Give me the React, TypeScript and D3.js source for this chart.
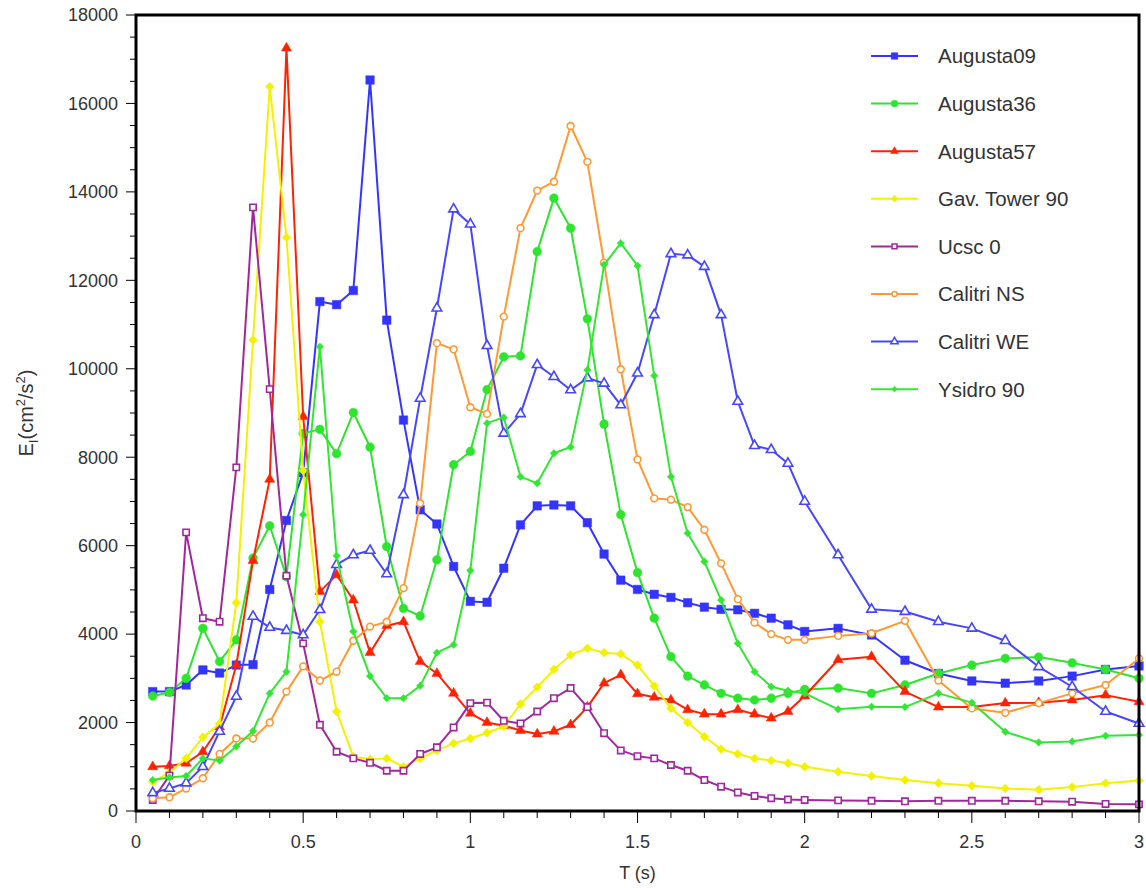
import * as d3 from 'd3';

// T (s) sample periods
const T = [
  0.05, 0.1, 0.15, 0.2, 0.25, 0.3, 0.35, 0.4, 0.45, 0.5,
  0.55, 0.6, 0.65, 0.7, 0.75, 0.8, 0.85, 0.9, 0.95, 1.0,
  1.05, 1.1, 1.15, 1.2, 1.25, 1.3, 1.35, 1.4, 1.45, 1.5,
  1.55, 1.6, 1.65, 1.7, 1.75, 1.8, 1.85, 1.9, 1.95, 2.0,
  2.1, 2.2, 2.3, 2.4, 2.5, 2.6, 2.7, 2.8, 2.9, 3.0,
];

const augusta09 = [
  2700, 2700, 2850, 3190, 3120, 3300, 3310, 5010, 6570, 7650,
  11520, 11450, 11770, 16530, 11100, 8840, 6810, 6490, 5530, 4740,
  4720, 5490, 6470, 6900, 6920, 6900, 6520, 5810, 5220, 5010,
  4900, 4830, 4710, 4610, 4560, 4550, 4470, 4360, 4210, 4060,
  4130, 3980, 3410, 3110, 2940, 2890, 2940, 3050, 3200, 3280,
];
const augusta36 = [
  2600, 2680, 3000, 4130, 3380, 3870, 5720, 6450, 5300, 8540,
  8630, 8080, 9010, 8230, 5980, 4580, 4410, 5680, 7830, 8130,
  9530, 10270, 10290, 12650, 13860, 13180, 11130, 8750, 6700, 5390,
  4360, 3490, 3050, 2850, 2660, 2550, 2510, 2550, 2660, 2750,
  2780, 2660, 2850, 3110, 3300, 3450, 3480, 3350, 3200, 3000,
];
const augusta57 = [
  1000, 1020, 1080, 1340, 1900, 3300, 5660, 7500, 17250, 8920,
  4960, 5340, 4770, 3580, 4190, 4280, 3380, 3110, 2660, 2210,
  2000, 1930, 1820, 1740, 1800, 1950, 2350, 2890, 3080, 2650,
  2570, 2510, 2290, 2190, 2190, 2290, 2190, 2100, 2250, 2600,
  3420, 3490, 2700, 2350, 2350, 2440, 2450, 2510, 2620, 2470,
];
const gavTower90 = [
  660, 870, 1190, 1670, 1970, 4710, 10650, 16380, 12970, 7700,
  4280, 2250, 1230, 1170, 1190, 1000, 1190, 1370, 1530, 1640,
  1770, 1910, 2420, 2800, 3200, 3530, 3680, 3580, 3550, 3300,
  2830, 2320, 2000, 1680, 1400, 1290, 1190, 1140, 1080, 1000,
  890, 790, 700, 630, 570, 510, 480, 540, 630, 690,
];
const ucsc0 = [
  250, 800, 6300, 4360, 4280, 7770, 13650, 9540, 5320, 3790,
  1950, 1340, 1190, 1090, 910, 910, 1290, 1440, 1890, 2440,
  2450, 2040, 1980, 2250, 2550, 2780, 2350, 1760, 1370, 1240,
  1190, 1040, 910, 700, 550, 420, 340, 290, 260, 250,
  240, 230, 220, 230, 230, 230, 220, 210, 160, 150,
];
const calitriNS = [
  290, 310, 510, 740, 1290, 1640, 1640, 2000, 2700, 3270,
  2950, 3150, 3850, 4170, 4280, 5040, 6960, 10580, 10440, 9130,
  8980, 11180, 13180, 14030, 14230, 15490, 14680, 12400, 9990, 7950,
  7070, 7040, 6870, 6360, 5600, 4790, 4260, 4000, 3870, 3870,
  3960, 4020, 4300, 2950, 2320, 2220, 2440, 2660, 2850, 3450,
];
const calitriWE = [
  410, 510, 630, 1000, 1800, 2590, 4400, 4150, 4080, 3980,
  4550, 5570, 5790, 5890, 5360, 7150, 9330, 11370, 13610, 13270,
  10520, 8540, 8980, 10090, 9820, 9520, 9790, 9670, 9180, 9900,
  11220, 12600, 12570, 12310, 11220, 9260, 8260, 8170, 7860, 7000,
  5790, 4560, 4510, 4280, 4130, 3850, 3260, 2810, 2250, 1980,
];
const ysidro90 = [
  700, 760, 790, 1190, 1140, 1460, 1810, 2660, 3150, 6700,
  10500, 5770, 4060, 3050, 2550, 2550, 2830, 3580, 3760, 5440,
  8770, 8900, 7560, 7410, 8090, 8230, 9970, 12350, 12840, 12330,
  9840, 7560, 6280, 5640, 4770, 3790, 3150, 2810, 2720, 2660,
  2300, 2360, 2350, 2660, 2450, 1790, 1550, 1570, 1700, 1720,
];

const X_TICKS = [0, 0.5, 1, 1.5, 2, 2.5, 3];
const Y_TICKS = [0, 2000, 4000, 6000, 8000, 10000, 12000, 14000, 16000, 18000];

const SERIES = [
  { name: 'Augusta09', values: augusta09, color: '#3434ff', symbol: d3.symbolSquare, size: 72, filled: true },
  { name: 'Augusta36', values: augusta36, color: '#2ee42e', symbol: d3.symbolCircle, size: 60, filled: true },
  { name: 'Augusta57', values: augusta57, color: '#ff2200', symbol: d3.symbolTriangle, size: 44, filled: true },
  { name: 'Gav. Tower 90', values: gavTower90, color: '#f2f200', symbol: d3.symbolDiamond2, size: 50, filled: true },
  { name: 'Ucsc 0', values: ucsc0, color: '#a0289c', symbol: d3.symbolSquare, size: 40, filled: false },
  { name: 'Calitri NS', values: calitriNS, color: '#ff9933', symbol: d3.symbolCircle, size: 36, filled: false },
  { name: 'Calitri WE', values: calitriWE, color: '#4646ff', symbol: d3.symbolTriangle, size: 40, filled: false },
  { name: 'Ysidro 90', values: ysidro90, color: '#33e633', symbol: d3.symbolDiamond2, size: 36, filled: true },
];

const W = 1146;
const H = 888;
const M = { left: 136, right: 1139, top: 15, bottom: 811 };
const FONT = '"Liberation Sans", Arial, Helvetica, sans-serif';

export default function App() {
  const x = d3.scaleLinear().domain([0, 3]).range([M.left, M.right]);
  const y = d3.scaleLinear().domain([0, 18000]).range([M.bottom, M.top]);

  const xMinor = d3.range(0, 31).map(i => i / 10);
  const yMinor = d3.range(0, 37).map(i => i * 500);

  return (
    <div style={{ position: 'absolute', left: 0, top: 0 }}>
      <svg width={W} height={H} style={{ display: 'block', background: '#fff' }}>
        {/* series */}
        {SERIES.map(s => {
          const pts: [number, number][] = T.map((t, i) => [t, s.values[i]]);
          const line = d3.line<[number, number]>().x(d => x(d[0])).y(d => y(d[1]));
          const sym = d3.symbol().type(s.symbol).size(s.size)();
          return (
            <g key={s.name}>
              <path d={line(pts) || ''} fill="none" stroke={s.color} strokeWidth={2} strokeLinejoin="round" />
              {pts.map((p, i) => (
                <path key={i} d={sym || ''} transform={`translate(${x(p[0])},${y(p[1])})`}
                  fill={s.filled ? s.color : '#fff'} stroke={s.color} strokeWidth={s.filled ? 0.5 : 1.6} />
              ))}
            </g>
          );
        })}

        {/* frame */}
        <rect x={M.left} y={M.top} width={M.right - M.left} height={M.bottom - M.top}
          fill="none" stroke="#000" strokeWidth={3} />

        {/* y axis ticks */}
        {yMinor.map(v => (
          <line key={'ym' + v} x1={M.left} x2={M.left - (v % 2000 === 0 ? 10 : 6)} y1={y(v)} y2={y(v)}
            stroke="#000" strokeWidth={1} />
        ))}
        {Y_TICKS.map(v => (
          <text key={'yt' + v} x={M.left - 18} y={y(v)} dy="0.35em" textAnchor="end"
            fontFamily={FONT} fontSize={18} fill="#333">{v}</text>
        ))}

        {/* x axis ticks */}
        {xMinor.map(v => (
          <line key={'xm' + v} y1={M.bottom} y2={M.bottom + (Math.round(v * 10) % 5 === 0 ? 12 : 7)} x1={x(v)} x2={x(v)}
            stroke="#000" strokeWidth={1} />
        ))}
        {X_TICKS.map(v => (
          <text key={'xt' + v} x={x(v)} y={848} textAnchor="middle"
            fontFamily={FONT} fontSize={18} fill="#333">{v}</text>
        ))}

        <text x={(M.left + M.right) / 2} y={879} textAnchor="middle" fontFamily={FONT} fontSize={18} fill="#333">T (s)</text>

        <text transform={`translate(33,${(M.top + M.bottom) / 2}) rotate(-90)`} textAnchor="middle"
          fontFamily={FONT} fontSize={20} fill="#333">
          <tspan>E</tspan>
          <tspan fontSize={13} dy={5}>I</tspan>
          <tspan dy={-5}>(cm</tspan>
          <tspan fontSize={13} dy={-8}>2</tspan>
          <tspan dy={8}>/s</tspan>
          <tspan fontSize={13} dy={-8}>2</tspan>
          <tspan dy={8}>)</tspan>
        </text>

        {/* legend */}
        {SERIES.map((s, i) => {
          const ly = 56 + i * 47.6;
          const sym = d3.symbol().type(s.symbol).size(s.size * 0.6)();
          return (
            <g key={'lg' + s.name}>
              <line x1={871} x2={918} y1={ly} y2={ly} stroke={s.color} strokeWidth={2} />
              <path d={sym || ''} transform={`translate(894.5,${ly})`}
                fill={s.filled ? s.color : '#fff'} stroke={s.color} strokeWidth={s.filled ? 0.5 : 1.5} />
              <text x={938} y={ly} dy="0.36em" fontFamily={FONT} fontSize={20.5} fill="#333">{s.name}</text>
            </g>
          );
        })}
      </svg>
    </div>
  );
}
